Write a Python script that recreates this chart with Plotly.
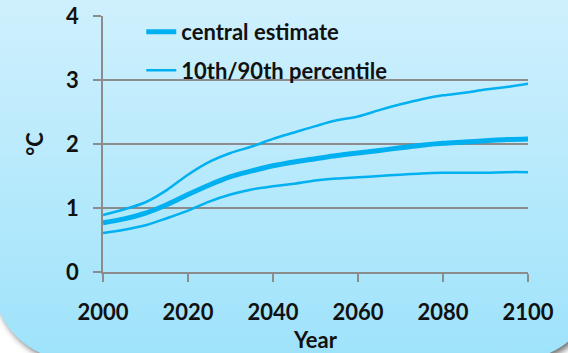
import base64
import plotly.graph_objects as go

# Projected warming relative to pre-industrial, degrees C
years = [2000, 2005, 2010, 2015, 2020, 2025, 2030, 2035, 2040, 2045, 2050,
         2055, 2060, 2065, 2070, 2075, 2080, 2085, 2090, 2095, 2100]
central = [0.77, 0.83, 0.92, 1.05, 1.21, 1.36, 1.49, 1.58, 1.66, 1.72, 1.77,
           1.82, 1.86, 1.90, 1.94, 1.98, 2.01, 2.03, 2.05, 2.07, 2.08]
p90 = [0.89, 0.98, 1.09, 1.28, 1.52, 1.72, 1.86, 1.96, 2.08, 2.18, 2.28,
       2.37, 2.43, 2.53, 2.62, 2.70, 2.76, 2.80, 2.85, 2.89, 2.94]
p10 = [0.61, 0.66, 0.73, 0.84, 0.96, 1.10, 1.21, 1.29, 1.34, 1.38, 1.43,
       1.46, 1.48, 1.50, 1.52, 1.54, 1.55, 1.55, 1.55, 1.56, 1.56]

x_ticks = [2000, 2020, 2040, 2060, 2080, 2100]
y_ticks = [0, 1, 2, 3, 4]

W, H = 568, 353
ML, MR, MT, MB = 103, 40, 16, 81
PW, PH = W - ML - MR, H - MT - MB

LINE = "#00b0f0"
GRID = "#8c8c8c"
FONT = "Lato"
FS = 22
TXT = "#111111"

# Rounded gradient panel with a soft drop shadow behind the chart
svg = f"""<svg xmlns='http://www.w3.org/2000/svg' width='{W}' height='{H}' viewBox='0 0 {W} {H}'>
<defs>
<linearGradient id='g' gradientUnits='userSpaceOnUse' x1='0' y1='0' x2='0' y2='{H}'>
<stop offset='0' stop-color='#cff0fd'/><stop offset='1' stop-color='#9fe3fb'/>
</linearGradient>
<filter id='s' x='-20%' y='-20%' width='140%' height='140%'><feGaussianBlur stdDeviation='3'/></filter>
</defs>
<rect width='{W}' height='{H}' fill='#ffffff'/>
<rect x='-4' y='-97' width='604' height='460' rx='80' fill='#6f6f6f' filter='url(#s)'/>
<rect x='-7' y='-100' width='604' height='460' rx='80' fill='url(#g)'/>
</svg>"""
bg_uri = "data:image/svg+xml;base64," + base64.b64encode(svg.encode()).decode()

text_font = dict(family=FONT, size=FS, color=TXT, weight="bold")

fig = go.Figure()
fig.add_trace(go.Scatter(
    x=years, y=central, mode="lines", name="central estimate",
    line=dict(color=LINE, width=5, shape="spline"), legendgroup="c"))
fig.add_trace(go.Scatter(
    x=years, y=p90, mode="lines", name="10th/90th percentile",
    line=dict(color=LINE, width=2.5, shape="spline"), legendgroup="p"))
fig.add_trace(go.Scatter(
    x=years, y=p10, mode="lines", name="10th/90th percentile",
    line=dict(color=LINE, width=2.5, shape="spline"), legendgroup="p",
    showlegend=False))

fig.update_layout(
    width=W, height=H,
    margin=dict(l=ML, r=MR, t=MT, b=MB, pad=0, autoexpand=False),
    paper_bgcolor="#ffffff",
    plot_bgcolor="rgba(0,0,0,0)",
    font=text_font,
    images=[dict(source=bg_uri, xref="paper", yref="paper",
                 x=-ML / PW, y=1 + MT / PH, sizex=W / PW, sizey=H / PH,
                 xanchor="left", yanchor="top", sizing="stretch",
                 layer="below")],
    legend=dict(x=0.09, y=1.02, xanchor="left", yanchor="top",
                bgcolor="rgba(0,0,0,0)", borderwidth=0,
                tracegroupgap=7, font=text_font),
    showlegend=True,
)

fig.update_xaxes(
    range=[2000, 2100], tickvals=x_ticks, ticktext=[str(v) for v in x_ticks],
    showgrid=False, zeroline=False, automargin=False,
    showline=True, linecolor=GRID, linewidth=1.5,
    ticks="outside", ticklen=8, tickcolor=GRID, tickwidth=1.5,
    ticklabelstandoff=12,
    tickfont=text_font,
    title=dict(text="Year", standoff=8, font=text_font),
)
fig.update_yaxes(
    range=[0, 4], tickvals=y_ticks, ticktext=[str(v) for v in y_ticks],
    showgrid=True, gridcolor=GRID, gridwidth=1.5, zeroline=False,
    automargin=False,
    showline=True, linecolor=GRID, linewidth=1.5,
    ticks="outside", ticklen=8, tickcolor=GRID, tickwidth=1.5,
    ticklabelstandoff=10,
    tickfont=text_font,
    title=dict(text="°C", standoff=16, font=text_font),
)

fig.write_html("out.html")
